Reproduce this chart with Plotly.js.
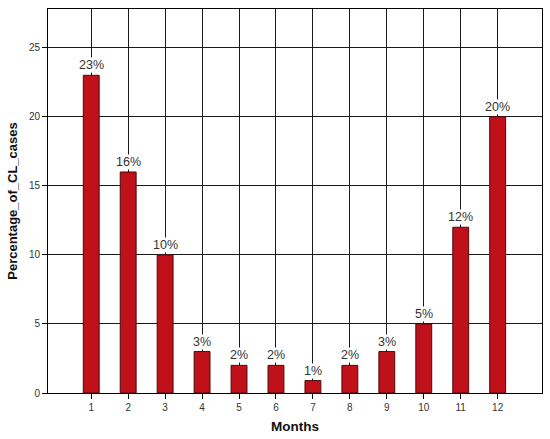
<!DOCTYPE html>
<html>
<head>
<meta charset="utf-8">
<script src="https://cdn.plot.ly/plotly-3.0.1.min.js"></script>
<style>html,body{margin:0;padding:0;background:#fff;}#chart{width:550px;height:439px;}</style>
</head>
<body>
<div id="chart"></div>
<script>
const months = [1,2,3,4,5,6,7,8,9,10,11,12];
const percentages = [23,16,10,3,2,2,0.9,2,3,5,12,20];
const labels = ["23%","16%","10%","3%","2%","2%","1%","2%","3%","5%","12%","20%"];
const yTicks = [0,5,10,15,20,25];

const trace = {
  type: 'bar',
  x: months,
  y: percentages,
  width: 0.43,
  marker: {color: '#C0111A', line: {color: '#4a0a0a', width: 1}},
  hoverinfo: 'skip'
};

const annotations = months.map((m, i) => ({
  x: m, y: percentages[i], xref: 'x', yref: 'y',
  text: labels[i], showarrow: false,
  yanchor: 'middle', yshift: 10,
  bgcolor: '#ffffff', borderpad: 0,
  font: {family: 'Liberation Sans, Arial, sans-serif', size: 12.5, color: '#333333'}
}));

const layout = {
  width: 550, height: 439,
  margin: {l: 48, r: 8, t: 9, b: 46},
  paper_bgcolor: '#ffffff', plot_bgcolor: '#ffffff',
  showlegend: false,
  font: {family: 'Liberation Sans, Arial, sans-serif', color: '#333333'},
  xaxis: {
    range: [-0.17, 13.2],
    tickvals: months, ticktext: months.map(String),
    ticks: 'outside', ticklen: 5, tickcolor: '#000', tickwidth: 1,
    showgrid: true, gridcolor: '#1a1a1a', gridwidth: 1,
    showline: true, linecolor: '#000', linewidth: 1, mirror: true,
    zeroline: false,
    tickfont: {size: 10, color: '#333'},
    title: {text: 'Months', font: {size: 13.5, color: '#111', weight: 'bold'}, standoff: 9}
  },
  yaxis: {
    range: [0, 27.8],
    tickvals: yTicks,
    ticks: 'outside', ticklen: 5, tickcolor: '#000', tickwidth: 1,
    showgrid: true, gridcolor: '#1a1a1a', gridwidth: 1,
    showline: true, linecolor: '#000', linewidth: 1, mirror: true,
    zeroline: false,
    tickfont: {size: 10, color: '#333'},
    title: {text: 'Percentage_of_CL_cases', font: {size: 13, color: '#111', weight: 'bold'}, standoff: 8}
  },
  annotations: annotations
};

Plotly.newPlot('chart', [trace], layout, {displayModeBar: false, staticPlot: true});
</script>
</body>
</html>
